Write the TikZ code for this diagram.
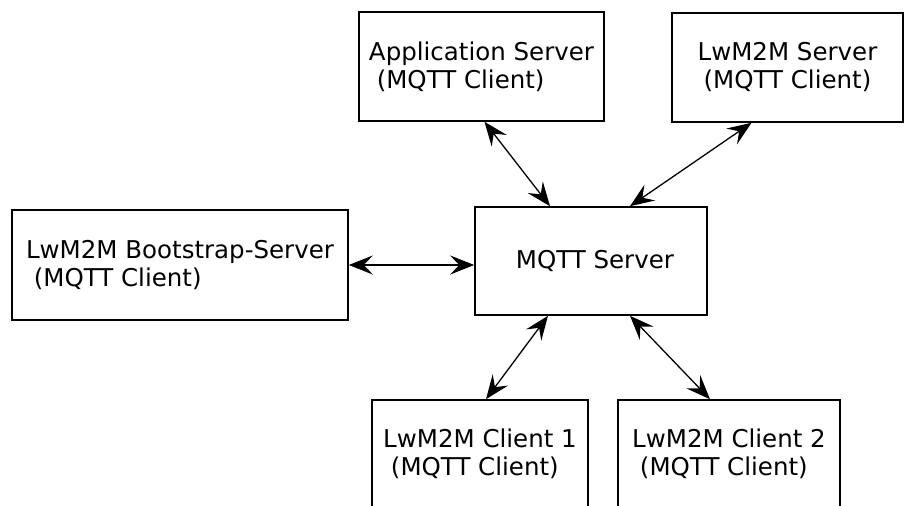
\documentclass[tikz,border=0pt]{standalone}
\usepackage{fontspec}
\setmainfont{DejaVu Sans}
\usetikzlibrary{arrows.meta}
\tikzstyle{box} = [draw, line width=1.6pt, inner sep=0pt, font=\fontsize{24.5}{28}\selectfont]
\tikzstyle{link} = [line width=1.3pt, >={Stealth[length=24pt,width=19pt,inset=9pt]}, <->]

\begin{document}
\begin{tikzpicture}[x=1pt, y=-1pt]
    \clip (0,0) rectangle (905,506);

    % Top row
    \node[box, minimum width=245pt, minimum height=109pt, align=left] (appsrv) at (481.5,66.5) {Application Server\\\ (MQTT Client)};
    \node[box, minimum width=231pt, minimum height=109pt, align=center] (lwsrv) at (787.5,67.5) {LwM2M Server\\(MQTT Client)};

    % Middle row
    \node[box, minimum width=336pt, minimum height=110pt, align=left] (boot) at (180,265) {LwM2M Bootstrap-Server\\\ (MQTT Client)};
    \node[box, minimum width=232pt, minimum height=108pt] (mqtt) at (591,261) {\ MQTT Server};

    % Bottom row
    \node[box, minimum width=216pt, minimum height=108pt, align=left] (client1) at (480,454) {LwM2M Client 1\\\ (MQTT Client)};
    \node[box, minimum width=222pt, minimum height=108pt, align=left] (client2) at (729,454) {LwM2M Client 2\\\ (MQTT Client)};

    % Links
    \draw[link] ([xshift=3pt]appsrv.south) -- ([xshift=-41pt]mqtt.north);
    \draw[link] ([xshift=-36pt]lwsrv.south) -- ([xshift=39pt]mqtt.north);
    \draw[link] (boot.east) -- ([yshift=-4pt]mqtt.west);
    \draw[link] ([xshift=-43pt]mqtt.south) -- ([xshift=6pt]client1.north);
    \draw[link] ([xshift=39pt]mqtt.south) -- ([xshift=-19pt]client2.north);
\end{tikzpicture}
\end{document}
